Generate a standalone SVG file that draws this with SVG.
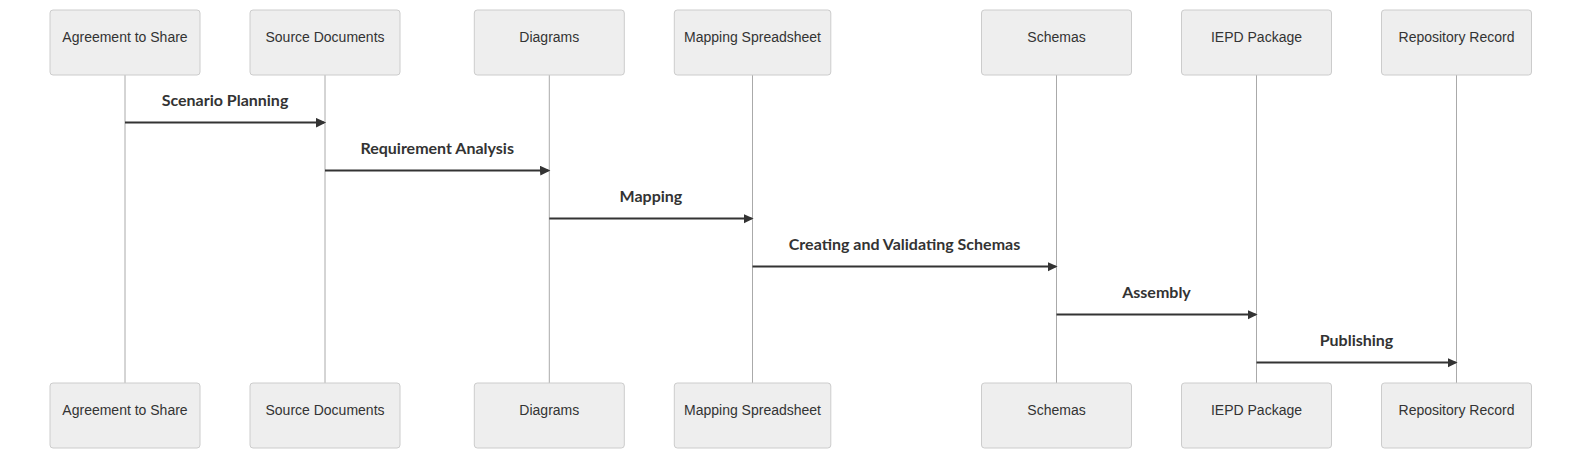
<svg xmlns="http://www.w3.org/2000/svg" width="1582" height="449" viewBox="0 0 1582 449">
<style>
.actor{fill:#eeeeee;stroke:#cccccc;stroke-width:1}
.atext{font-family:"Liberation Sans",Arial,sans-serif;font-size:14px;fill:#333;text-anchor:middle}
.life{stroke:#aaaaaa;stroke-width:1}
.msg{stroke:#333;stroke-width:2;fill:none}
.mtext{font-family:Lato,"Open Sans",sans-serif;font-weight:700;font-size:16px;fill:#333;text-anchor:middle}
</style>
<defs>
<marker id="arrowhead" refX="7.9" refY="5" markerUnits="userSpaceOnUse" markerWidth="12" markerHeight="12" orient="auto">
<path d="M -1 0 L 10 5 L 0 10 z" fill="#333"/>
</marker>
</defs>
<g id="lifelines">
<line class="life" x1="125" y1="75" x2="125" y2="383"/>
<line class="life" x1="325" y1="75" x2="325" y2="383"/>
<line class="life" x1="549.3" y1="75" x2="549.3" y2="383"/>
<line class="life" x1="752.5" y1="75" x2="752.5" y2="383"/>
<line class="life" x1="1056.5" y1="75" x2="1056.5" y2="383"/>
<line class="life" x1="1256.5" y1="75" x2="1256.5" y2="383"/>
<line class="life" x1="1456.5" y1="75" x2="1456.5" y2="383"/>
</g>
<g id="actor-agreement">
<rect class="actor" x="50" y="10" width="150" height="65" rx="3"/>
<text class="atext" x="125" y="41.5">Agreement to Share</text>
<rect class="actor" x="50" y="383" width="150" height="65" rx="3"/>
<text class="atext" x="125" y="414.5">Agreement to Share</text>
</g>
<g id="actor-source">
<rect class="actor" x="250" y="10" width="150" height="65" rx="3"/>
<text class="atext" x="325" y="41.5">Source Documents</text>
<rect class="actor" x="250" y="383" width="150" height="65" rx="3"/>
<text class="atext" x="325" y="414.5">Source Documents</text>
</g>
<g id="actor-diagrams">
<rect class="actor" x="474.3" y="10" width="150" height="65" rx="3"/>
<text class="atext" x="549.3" y="41.5">Diagrams</text>
<rect class="actor" x="474.3" y="383" width="150" height="65" rx="3"/>
<text class="atext" x="549.3" y="414.5">Diagrams</text>
</g>
<g id="actor-mapping">
<rect class="actor" x="674.3" y="10" width="156.5" height="65" rx="3"/>
<text class="atext" x="752.5" y="41.5">Mapping Spreadsheet</text>
<rect class="actor" x="674.3" y="383" width="156.5" height="65" rx="3"/>
<text class="atext" x="752.5" y="414.5">Mapping Spreadsheet</text>
</g>
<g id="actor-schemas">
<rect class="actor" x="981.5" y="10" width="150" height="65" rx="3"/>
<text class="atext" x="1056.5" y="41.5">Schemas</text>
<rect class="actor" x="981.5" y="383" width="150" height="65" rx="3"/>
<text class="atext" x="1056.5" y="414.5">Schemas</text>
</g>
<g id="actor-iepd">
<rect class="actor" x="1181.5" y="10" width="150" height="65" rx="3"/>
<text class="atext" x="1256.5" y="41.5">IEPD Package</text>
<rect class="actor" x="1181.5" y="383" width="150" height="65" rx="3"/>
<text class="atext" x="1256.5" y="414.5">IEPD Package</text>
</g>
<g id="actor-repository">
<rect class="actor" x="1381.5" y="10" width="150" height="65" rx="3"/>
<text class="atext" x="1456.5" y="41.5">Repository Record</text>
<rect class="actor" x="1381.5" y="383" width="150" height="65" rx="3"/>
<text class="atext" x="1456.5" y="414.5">Repository Record</text>
</g>
<g id="messages">
<text class="mtext" x="225" y="105.5">Scenario Planning</text>
<line class="msg" x1="125" y1="122.5" x2="324" y2="122.5" marker-end="url(#arrowhead)"/>
<text class="mtext" x="437.2" y="153.5">Requirement Analysis</text>
<line class="msg" x1="325" y1="170.5" x2="548.3" y2="170.5" marker-end="url(#arrowhead)"/>
<text class="mtext" x="650.9" y="201.5">Mapping</text>
<line class="msg" x1="549.3" y1="218.5" x2="751.5" y2="218.5" marker-end="url(#arrowhead)"/>
<text class="mtext" x="904.5" y="249.5">Creating and Validating Schemas</text>
<line class="msg" x1="752.5" y1="266.5" x2="1055.5" y2="266.5" marker-end="url(#arrowhead)"/>
<text class="mtext" x="1156.5" y="297.5">Assembly</text>
<line class="msg" x1="1056.5" y1="314.5" x2="1255.5" y2="314.5" marker-end="url(#arrowhead)"/>
<text class="mtext" x="1356.5" y="345.5">Publishing</text>
<line class="msg" x1="1256.5" y1="362.5" x2="1455.5" y2="362.5" marker-end="url(#arrowhead)"/>
</g>
</svg>
